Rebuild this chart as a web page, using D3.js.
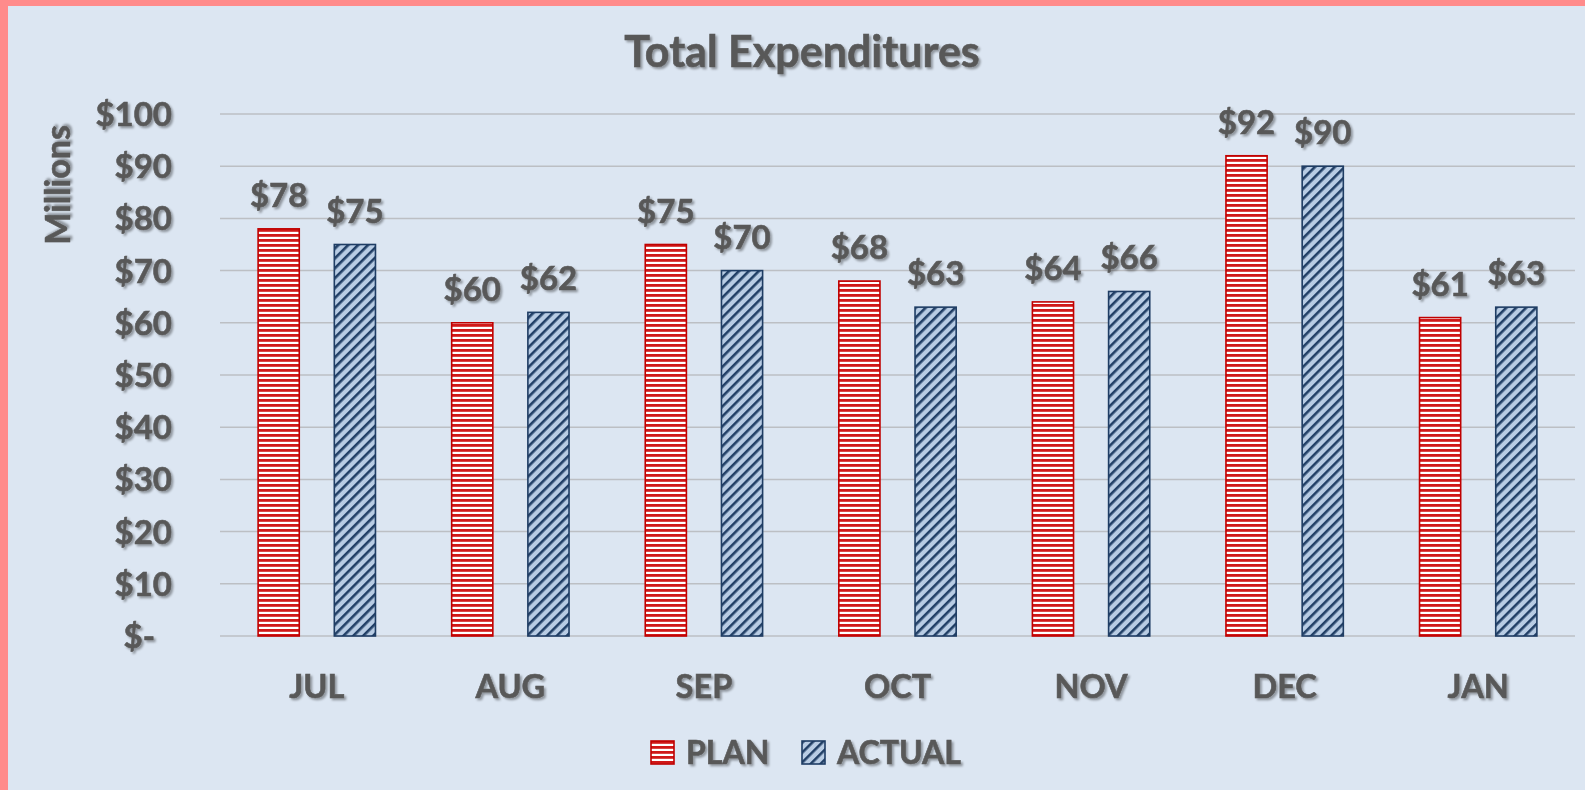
<!DOCTYPE html>
<html>
<head>
<meta charset="utf-8">
<script src="https://cdn.jsdelivr.net/npm/d3@7"></script>
<style>
  body { margin: 0; padding: 0; background: #dce6f2; }
  svg { display: block; }
  text { font-family: Lato, "Open Sans", sans-serif; font-weight: 700; fill: #595959;
         stroke: #595959; stroke-width: 0.6px; }
</style>
</head>
<body>
<svg id="chart" width="1585" height="790"></svg>
<script>
var months = ["JUL", "AUG", "SEP", "OCT", "NOV", "DEC", "JAN"];
var series = ["PLAN", "ACTUAL"];
var plan = [78, 60, 75, 68, 64, 92, 61];
var actual = [75, 62, 70, 63, 66, 90, 63];
var yTicks = [0, 10, 20, 30, 40, 50, 60, 70, 80, 90, 100];

var W = 1585, H = 790;
var margin = {top: 114, right: 10, bottom: 154, left: 220};
var width = W - margin.left - margin.right,
    height = H - margin.top - margin.bottom;

var svg = d3.select("#chart");

// background + pink frame
svg.append("rect").attr("width", W).attr("height", H).attr("fill", "#dce6f2");
svg.append("rect").attr("width", W).attr("height", 6).attr("fill", "#ff8b8b");
svg.append("rect").attr("width", 8).attr("height", H).attr("fill", "#ff8b8b");

var defs = svg.append("defs");

var shadow = defs.append("filter").attr("id", "shadow")
  .attr("x", "-10%").attr("y", "-10%").attr("width", "130%").attr("height", "140%");
shadow.append("feDropShadow")
  .attr("dx", 2).attr("dy", 2).attr("stdDeviation", 1.3)
  .attr("flood-color", "#000").attr("flood-opacity", 0.35);

// horizontal stripes for PLAN
var pPlan = defs.append("pattern").attr("id", "plan")
  .attr("patternUnits", "userSpaceOnUse").attr("width", 8).attr("height", 5);
pPlan.append("rect").attr("width", 8).attr("height", 5).attr("fill", "#ffffff");
pPlan.append("rect").attr("width", 8).attr("height", 2.8).attr("fill", "#d01818");

// diagonal hatch for ACTUAL
var pAct = defs.append("pattern").attr("id", "actual")
  .attr("patternUnits", "userSpaceOnUse").attr("width", 7).attr("height", 7)
  .attr("patternTransform", "rotate(-45)");
pAct.append("rect").attr("width", 7).attr("height", 7).attr("fill", "#b8cce4");
pAct.append("rect").attr("width", 7).attr("height", 2.6).attr("fill", "#213f66");

var fills = {PLAN: "url(#plan)", ACTUAL: "url(#actual)"};
var strokes = {PLAN: "#c00000", ACTUAL: "#1f3d64"};

var g = svg.append("g")
  .attr("transform", "translate(" + margin.left + "," + margin.top + ")");

var x = d3.scaleBand().domain(months).range([0, width]).padding(0);
var xs = d3.scaleBand().domain(series).range([0, x.bandwidth()])
  .paddingInner(0.46).paddingOuter(0.5);
var y = d3.scaleLinear().domain([0, 100]).range([height, 0]);

// gridlines
g.append("g").selectAll("line")
  .data(yTicks)
  .enter().append("line")
  .attr("x1", 0).attr("x2", width)
  .attr("y1", function(d) { return y(d); })
  .attr("y2", function(d) { return y(d); })
  .attr("stroke", "#bcbfc4").attr("stroke-width", 1.5);

// y axis labels
var yAxis = d3.axisLeft(y).tickValues(yTicks).tickSize(0)
  .tickFormat(function(d) { return d === 0 ? "$-" : "$" + d; });
var ya = g.append("g").attr("transform", "translate(-45,0)").call(yAxis);
ya.select(".domain").remove();
ya.selectAll("text")
  .attr("font-size", "33px")
  .attr("font-family", null).attr("fill", null)
  .attr("dy", "0.35em")
  .attr("filter", "url(#shadow)")
  .attr("dx", function(d) { return d === 0 ? -17 : 0; });

// x axis labels
var xAxis = d3.axisBottom(x).tickSize(0);
var xa = g.append("g").attr("transform", "translate(0," + height + ")").call(xAxis);
xa.select(".domain").remove();
xa.selectAll("text")
  .attr("font-size", "32.5px")
  .attr("font-family", null).attr("fill", null)
  .attr("y", 62).attr("dy", 0)
  .attr("filter", "url(#shadow)");

// bars
var rows = months.map(function(m, i) {
  return {month: m, values: [{s: "PLAN", v: plan[i]}, {s: "ACTUAL", v: actual[i]}]};
});

var groups = g.selectAll(".month")
  .data(rows)
  .enter().append("g")
  .attr("class", "month")
  .attr("transform", function(d) { return "translate(" + x(d.month) + ",0)"; });

groups.selectAll("rect")
  .data(function(d) { return d.values; })
  .enter().append("rect")
  .attr("x", function(d) { return xs(d.s); })
  .attr("y", function(d) { return y(d.v); })
  .attr("width", xs.bandwidth())
  .attr("height", function(d) { return height - y(d.v); })
  .attr("fill", function(d) { return fills[d.s]; })
  .attr("stroke", function(d) { return strokes[d.s]; })
  .attr("stroke-width", 1.6);

groups.selectAll(".lbl")
  .data(function(d) { return d.values; })
  .enter().append("text")
  .attr("class", "lbl")
  .attr("x", function(d) { return xs(d.s) + xs.bandwidth() / 2; })
  .attr("y", function(d) { return y(d.v) - 22; })
  .attr("text-anchor", "middle")
  .attr("font-size", "33px")
  .attr("filter", "url(#shadow)")
  .text(function(d) { return "$" + d.v; });

// title
svg.append("text")
  .attr("x", 802).attr("y", 67)
  .attr("text-anchor", "middle")
  .attr("font-size", "43px")
  .attr("filter", "url(#shadow)")
  .text("Total Expenditures");

// y axis title
svg.append("text")
  .attr("transform", "translate(70,185) rotate(-90)")
  .attr("text-anchor", "middle")
  .attr("font-size", "34px")
  .attr("filter", "url(#shadow)")
  .text("Millions");

// legend
var legendX = [651, 802];
var legend = svg.selectAll(".legend")
  .data(series)
  .enter().append("g")
  .attr("class", "legend")
  .attr("transform", function(d, i) { return "translate(" + legendX[i] + ",741)"; });

legend.append("rect")
  .attr("width", 23).attr("height", 23)
  .attr("fill", function(d) { return fills[d]; })
  .attr("stroke", function(d) { return strokes[d]; })
  .attr("stroke-width", 1.6);

legend.append("text")
  .attr("x", 35).attr("y", 22.5)
  .attr("font-size", "32px")
  .attr("filter", "url(#shadow)")
  .text(function(d) { return d; });
</script>
</body>
</html>
